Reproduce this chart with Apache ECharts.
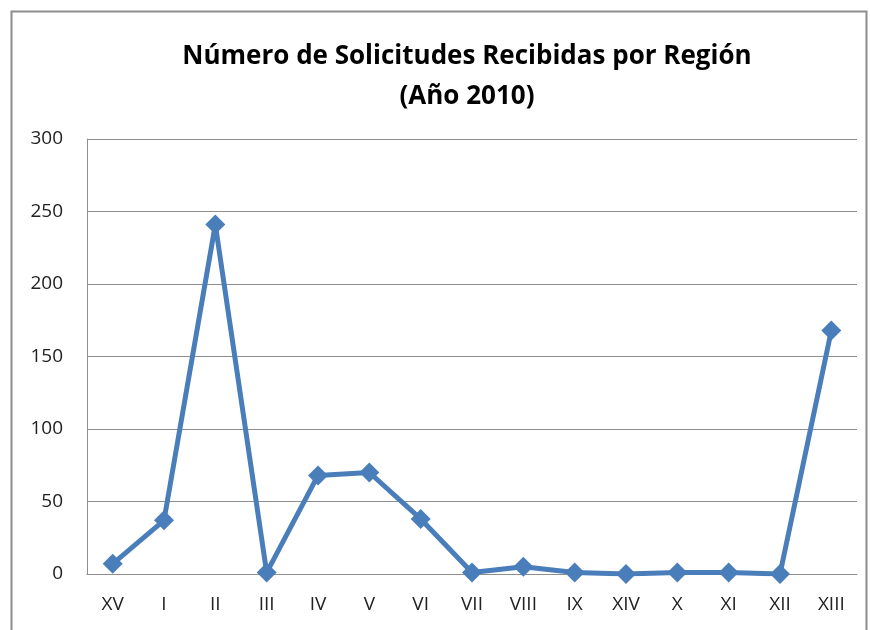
<!DOCTYPE html>
<html>
<head>
<meta charset="utf-8">
<script src="https://cdn.jsdelivr.net/npm/echarts@6/dist/echarts.min.js"></script>
<style>
  html, body { margin: 0; padding: 0; background: #fff; }
  #chart { width: 870px; height: 630px; }
</style>
</head>
<body>
<div id="chart"></div>
<script>
// regiones en el orden del gráfico
const regiones = ['XV', 'I', 'II', 'III', 'IV', 'V', 'VI', 'VII', 'VIII', 'IX', 'XIV', 'X', 'XI', 'XII', 'XIII']
const solicitudes = [7, 37, 241, 1, 68, 70, 38, 1, 5, 1, 0, 1, 1, 0, 168]
const yTicks = [0, 50, 100, 150, 200, 250, 300]

const chart = echarts.init(document.getElementById('chart'))

chart.setOption({
  animation: false,
  graphic: [{
    type: 'rect',
    shape: { x: 11.5, y: 11.5, width: 855, height: 640 },
    style: { fill: 'none', stroke: '#8c8c8c', lineWidth: 2 },
    silent: true
  }],
  title: {
    text: 'Número de Solicitudes Recibidas por Región\n(Año 2010)',
    left: 462,
    top: 32,
    textAlign: 'center',
    textStyle: {
      fontFamily: 'Open Sans',
      fontWeight: 'bold',
      fontSize: 26,
      lineHeight: 40,
      color: '#000'
    }
  },
  grid: {
    left: 87,
    right: 13,
    top: 139,
    bottom: 56
  },
  xAxis: {
    type: 'category',
    data: regiones,
    boundaryGap: true,
    axisLine: { show: true, lineStyle: { color: '#8e8e8e', width: 1 } },
    axisTick: { show: false },
    axisLabel: {
      color: '#222',
      fontFamily: 'Open Sans',
      fontSize: 19,
      margin: 21
    }
  },
  yAxis: {
    type: 'value',
    min: yTicks[0],
    max: yTicks[yTicks.length - 1],
    interval: 50,
    axisLine: { show: true, lineStyle: { color: '#8e8e8e', width: 1 } },
    axisTick: { show: false },
    splitLine: { lineStyle: { color: '#8e8e8e', width: 1 } },
    axisLabel: {
      color: '#222',
      fontFamily: 'Open Sans',
      fontSize: 19,
      margin: 24
    }
  },
  series: [{
    type: 'line',
    data: solicitudes,
    symbol: 'diamond',
    symbolSize: 20,
    lineStyle: { color: '#4a7ebb', width: 5 },
    itemStyle: { color: '#4a7ebb' }
  }]
})
</script>
</body>
</html>
